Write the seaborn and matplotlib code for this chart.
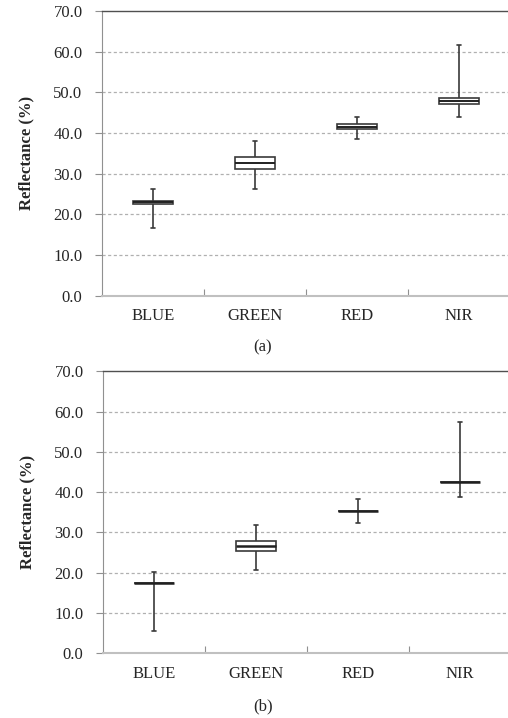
import numpy as np
import pandas as pd
import seaborn as sns
import matplotlib.pyplot as plt

# Band names and box summaries (whisker low, Q1, median, Q3, whisker high)
bands = ['BLUE', 'GREEN', 'RED', 'NIR']

stats_a = {
    'BLUE':  [16.6, 22.4, 22.9, 23.3, 26.2],
    'GREEN': [26.1, 31.2, 32.7, 34.0, 37.9],
    'RED':   [38.4, 40.9, 41.5, 42.1, 43.9],
    'NIR':   [43.8, 47.2, 47.9, 48.6, 61.7],
}

stats_b = {
    'BLUE':  [5.5, 17.5, 17.5, 17.5, 20.2],
    'GREEN': [20.6, 25.5, 26.7, 28.0, 31.8],
    'RED':   [32.3, 35.4, 35.4, 35.4, 38.2],
    'NIR':   [38.7, 42.6, 42.6, 42.6, 57.4],
}

y_ticks = [0, 10, 20, 30, 40, 50, 60, 70]
captions = ['(a)', '(b)']


def to_long(stats):
    # five points per band -> quantiles land exactly on the given values
    rows = []
    for b in bands:
        for v in stats[b]:
            rows.append({'band': b, 'value': v})
    return pd.DataFrame(rows)


sns.set_style('white')
plt.rcParams['font.family'] = ['Liberation Serif', 'DejaVu Serif']

fig = plt.figure(figsize=(5.08, 7.18), dpi=100)
W, H = 508, 718

panels = [
    (fig.add_axes([102 / W, 1 - 295.5 / H, 408 / W, (295.5 - 11) / H]), stats_a, 347),
    (fig.add_axes([103 / W, 1 - 653.3 / H, 408 / W, (653.3 - 371.3) / H]), stats_b, 706),
]

for i, (ax, stats, cap_y) in enumerate(panels):
    df = to_long(stats)
    sns.boxplot(
        data=df, x='band', y='value', order=bands, ax=ax,
        whis=(0, 100), width=0.4, color='white', linecolor='#3a3a3a',
        linewidth=1.2, showfliers=False, capwidths=0.04,
        medianprops=dict(color='#202020', linewidth=1.4 if i == 0 else 1.8),
    )
    ax.set_xlim(-0.5, 3.5)
    ax.set_ylim(0, 70)
    ax.set_yticks(y_ticks)
    ax.set_yticklabels([f'{t:.1f}' for t in y_ticks], fontsize=12)
    ax.tick_params(axis='x', length=0, labelsize=12, pad=9)
    ax.tick_params(axis='y', direction='out', length=5, width=0.8,
                   color='#909090', pad=9, left=True)
    ax.set_xticks([0.5, 1.5, 2.5], minor=True)
    ax.tick_params(axis='x', which='minor', direction='in', length=5,
                   width=0.8, color='#909090', bottom=True)
    for t in y_ticks[1:-1]:
        ax.axhline(t, color='#b0b0b0', linestyle=(0, (2.5, 2)), linewidth=0.9, zorder=0)
    ax.spines['left'].set_color('#909090')
    ax.spines['bottom'].set_color('#c0c0c0')
    ax.spines['bottom'].set_linewidth(1.5)
    ax.spines['top'].set_color('#505050')
    ax.spines['top'].set_linewidth(1.0)
    ax.spines['right'].set_visible(False)
    ax.set_xlabel('')
    ax.set_ylabel('Reflectance (%)', fontsize=12, fontweight='bold', labelpad=14)
    fig.text(263 / W, 1 - cap_y / H, captions[i], ha='center', va='center', fontsize=12)

fig.savefig('out.png', dpi=100)
